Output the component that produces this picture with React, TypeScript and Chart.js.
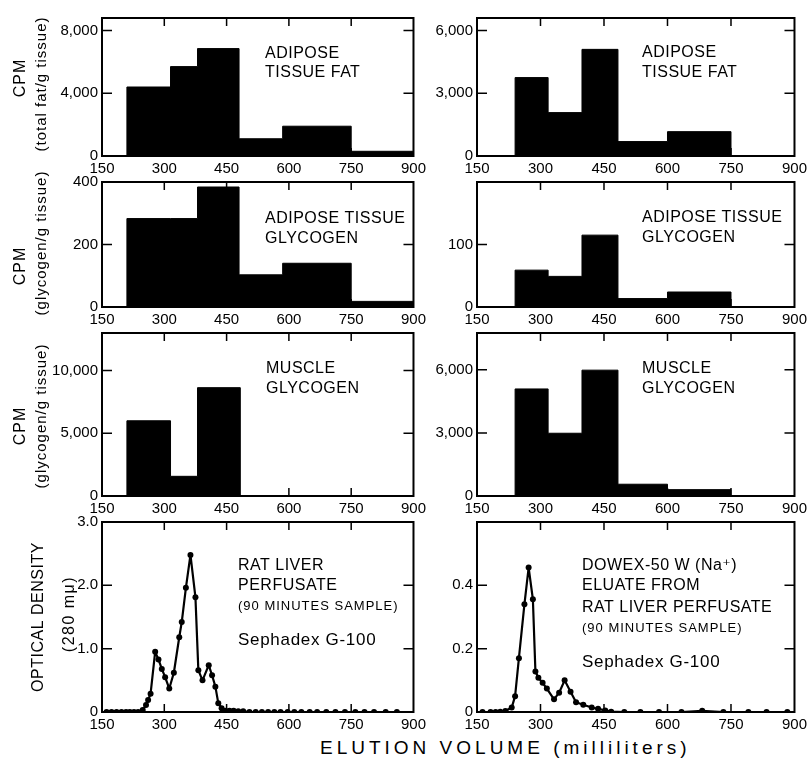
import React, { useEffect, useRef } from 'react';
import { Chart, registerables } from 'chart.js';

Chart.register(...registerables);

// ---------------- data ----------------
const xTickValues = [150, 300, 450, 600, 750, 900];
const xTickLabels = ['150', '300', '450', '600', '750', '900'];
const xInnerTicks = [300, 450, 600, 750];

// Adipose tissue fat
const fatLeftEdges = [210, 315, 380, 480, 585, 750, 900];
const fatLeftCPM = [4400, 5700, 6850, 1100, 1900, 300];
const fatLeftTicks = [0, 4000, 8000];
const fatLeftTickLabels = ['0', '4,000', '8,000'];

const fatRightEdges = [240, 318, 398, 483, 600, 750];
const fatRightCPM = [3750, 2075, 5100, 690, 1165];
const fatRightTicks = [0, 3000, 6000];
const fatRightTickLabels = ['0', '3,000', '6,000'];

// Adipose tissue glycogen
const glyLeftEdges = [210, 315, 380, 480, 585, 750, 900];
const glyLeftCPM = [283, 283, 384, 103, 140, 18];
const glyLeftTicks = [0, 200, 400];
const glyLeftTickLabels = ['0', '200', '400'];

const glyRightEdges = [240, 318, 398, 483, 600, 750];
const glyRightCPM = [59, 49, 115, 13.5, 24];
const glyRightTicks = [0, 100];
const glyRightTickLabels = ['0', '100'];

// Muscle glycogen
const musLeftEdges = [210, 315, 380, 483];
const musLeftCPM = [6000, 1570, 8640];
const musLeftTicks = [0, 5000, 10000];
const musLeftTickLabels = ['0', '5,000', '10,000'];

const musRightEdges = [240, 318, 398, 483, 600, 750];
const musRightCPM = [5090, 2984, 5984, 560, 303];
const musRightTicks = [0, 3000, 6000];
const musRightTickLabels = ['0', '3,000', '6,000'];

// Rat liver perfusate, optical density
const liverVolume = [161, 173, 185, 197, 208, 217, 227, 237, 248, 256, 261, 267, 278, 286, 294, 302, 312, 323, 336, 342, 352, 363, 375, 382, 392, 407, 415, 423, 430, 438, 447, 457, 467, 478, 490, 505, 520, 535, 550, 565, 580, 597, 613, 630, 650, 668, 690, 712, 735, 760, 782, 805, 833, 860];
const liverOD = [0, 0, 0, 0, 0, 0, 0, 0, 0.03, 0.11, 0.19, 0.29, 0.95, 0.83, 0.68, 0.55, 0.37, 0.62, 1.18, 1.42, 1.96, 2.48, 1.81, 0.66, 0.5, 0.74, 0.58, 0.4, 0.14, 0.06, 0.02, 0.02, 0.02, 0.01, 0.01, 0, 0, 0, 0, 0, 0, 0, 0, 0, 0, 0, 0, 0, 0, 0, 0, 0, 0, 0];
const liverTicks = [0, 1, 2, 3];
const liverTickLabels = ['0', '1.0', '2.0', '3.0'];

// Dowex-50 eluate, optical density
const dowexVolume = [163, 182, 194, 205, 217, 232, 240, 249, 262, 272, 282, 288, 295, 305, 315, 332, 344, 357, 371, 384, 401, 421, 436, 453, 467, 498, 536, 580, 633, 682, 732, 791, 834, 883];
const dowexOD = [0, 0, 0, 0.001, 0.003, 0.014, 0.05, 0.17, 0.34, 0.456, 0.356, 0.128, 0.108, 0.092, 0.074, 0.04, 0.061, 0.1, 0.064, 0.031, 0.023, 0.014, 0.01, 0.005, 0.001, 0, 0, 0, 0, 0.004, 0, 0, 0, 0];
const dowexTicks = [0, 0.2, 0.4];
const dowexTickLabels = ['0', '0.2', '0.4'];

// ---------------- helpers ----------------
const FONT = "'Liberation Sans', 'DejaVu Sans', sans-serif";
const TICK_FAMILY = "'Liberation Sans Narrow', 'Liberation Sans', sans-serif";

function histPoints(edges: number[], vals: number[]) {
  const pts: { x: number; y: number }[] = [{ x: 150, y: 0 }];
  vals.forEach((v, i) => pts.push({ x: edges[i], y: v }));
  const last = edges[edges.length - 1];
  pts.push({ x: last, y: 0 });
  if (last < 900) pts.push({ x: 900, y: 0 });
  return pts;
}

const histDataset = (edges: number[], vals: number[]) => ({
  data: histPoints(edges, vals),
  stepped: 'before',
  fill: 'origin',
  borderColor: '#000',
  backgroundColor: '#000',
  borderWidth: 1,
  pointRadius: 0,
});

const curveDataset = (xs: number[], ys: number[]) => ({
  data: xs.map((x, i) => ({ x, y: ys[i] })),
  borderColor: '#000',
  backgroundColor: '#000',
  pointBackgroundColor: '#000',
  pointBorderWidth: 0,
  borderWidth: 2.2,
  borderJoinStyle: 'round',
  pointRadius: 3,
  fill: false,
  tension: 0,
});

type TextItem = { text: string; x: number; y: number; font: string; spacing?: string; rot?: boolean; align?: string; baseline?: string };

const panelDecor = {
  id: 'panelDecor',
  afterDatasetsDraw(chart: any, _args: any, opts: any) {
    const ctx = chart.ctx as CanvasRenderingContext2D;
    const { left, right, top, bottom } = chart.chartArea;
    const xs = chart.scales.x;
    const ys = chart.scales.y;
    ctx.save();
    ctx.strokeStyle = '#000';
    ctx.lineWidth = 1.5;
    ctx.beginPath();
    for (const v of opts.yTicks) {
      if (v === 0) continue;
      const y = ys.getPixelForValue(v);
      ctx.moveTo(left, y);
      ctx.lineTo(left + 10, y);
      ctx.moveTo(right, y);
      ctx.lineTo(right - 10, y);
    }
    for (const v of xInnerTicks) {
      const x = xs.getPixelForValue(v);
      ctx.moveTo(x, top);
      ctx.lineTo(x, top + 8);
      ctx.moveTo(x, bottom);
      ctx.lineTo(x, bottom - 8);
    }
    ctx.stroke();
    ctx.lineWidth = 2;
    ctx.strokeRect(left, top, right - left, bottom - top);
    ctx.fillStyle = '#000';
    for (const t of opts.texts as TextItem[]) {
      ctx.save();
      ctx.font = t.font;
      (ctx as any).letterSpacing = t.spacing || '0px';
      ctx.textAlign = (t.align || 'left') as CanvasTextAlign;
      ctx.textBaseline = (t.baseline || 'alphabetic') as CanvasTextBaseline;
      ctx.translate(t.x - opts.ox, t.y - opts.oy);
      if (t.rot) ctx.rotate(-Math.PI / 2);
      ctx.fillText(t.text, 0, 0);
      ctx.restore();
    }
    ctx.restore();
  },
};

type PanelCfg = {
  cx: number; cy: number; w: number; h: number;
  plotLeft: number; plotRight: number; plotTop: number; plotBottom: number;
  yMax: number; yTicks: number[]; yLabels: string[];
  datasets: any[]; texts: TextItem[];
};

function buildConfig(p: PanelCfg): any {
  return {
    type: 'line',
    data: { datasets: p.datasets },
    options: {
      animation: false,
      responsive: false,
      devicePixelRatio: 1,
      layout: { padding: { left: 0, top: p.plotTop - p.cy, right: p.cx + p.w - p.plotRight, bottom: 0 } },
      plugins: {
        legend: { display: false },
        tooltip: { enabled: false },
        panelDecor: { yTicks: p.yTicks, texts: p.texts, ox: p.cx, oy: p.cy },
      },
      scales: {
        x: {
          type: 'linear', min: 150, max: 900,
          grid: { display: false, drawTicks: false },
          border: { display: false },
          afterBuildTicks: (s: any) => { s.ticks = xTickValues.map((v) => ({ value: v })); },
          afterFit: (s: any) => { s.height = p.cy + p.h - p.plotBottom; },
          ticks: {
            color: '#000', padding: 4, maxRotation: 0, autoSkip: false,
            font: { family: TICK_FAMILY, size: 15 },
            callback: (_v: any, i: number) => xTickLabels[i],
          },
        },
        y: {
          type: 'linear', min: 0, max: p.yMax,
          grid: { display: false, drawTicks: false },
          border: { display: false },
          afterBuildTicks: (s: any) => { s.ticks = p.yTicks.map((v) => ({ value: v })); },
          afterFit: (s: any) => { s.width = p.plotLeft - p.cx; },
          ticks: {
            color: '#000', padding: 4, autoSkip: false,
            font: { family: TICK_FAMILY, size: 15 },
            callback: (_v: any, i: number) => p.yLabels[i],
          },
        },
      },
    },
    plugins: [panelDecor],
  };
}

function Panel({ cfg }: { cfg: PanelCfg }) {
  const ref = useRef<HTMLCanvasElement | null>(null);
  useEffect(() => {
    const chart = new Chart(ref.current as HTMLCanvasElement, buildConfig(cfg));
    return () => chart.destroy();
  }, []);
  return (
    <canvas
      ref={ref}
      width={cfg.w}
      height={cfg.h}
      style={{ position: 'absolute', left: cfg.cx, top: cfg.cy, width: cfg.w, height: cfg.h }}
    />
  );
}

// ---------------- layout ----------------
const COL_L = { cx: 0, w: 430, plotLeft: 102, plotRight: 415 };
const COL_R = { cx: 420, w: 391, plotLeft: 477, plotRight: 795 };
const ROW1 = { cy: 0, h: 178, plotTop: 18, plotBottom: 156 };
const ROW2 = { cy: 165, h: 164, plotTop: 182, plotBottom: 307 };
const ROW3 = { cy: 320, h: 198, plotTop: 333, plotBottom: 496 };
const ROW4 = { cy: 505, h: 229, plotTop: 522, plotBottom: 712 };

const F16 = `16px ${FONT}`;
const F17 = `17px ${FONT}`;
const F13 = `13px ${FONT}`;
const F15 = `15px ${FONT}`;

const label = (text: string, x: number, y: number, font = F16, spacing = '0.5px'): TextItem => ({ text, x, y, font, spacing });
const vtitle = (text: string, x: number, y: number, font: string, spacing = '0.5px'): TextItem => ({ text, x, y, font, spacing, rot: true, align: 'center', baseline: 'middle' });

const panels: PanelCfg[] = [
  {
    ...COL_L, ...ROW1, yMax: 8800, yTicks: fatLeftTicks, yLabels: fatLeftTickLabels,
    datasets: [histDataset(fatLeftEdges, fatLeftCPM)],
    texts: [
      label('ADIPOSE', 265, 58), label('TISSUE FAT', 265, 77),
      vtitle('CPM', 21, 78, F16, '1px'), vtitle('(total fat/g tissue)', 42, 84, F15, '1px'),
    ],
  },
  {
    ...COL_R, ...ROW1, yMax: 6600, yTicks: fatRightTicks, yLabels: fatRightTickLabels,
    datasets: [histDataset(fatRightEdges, fatRightCPM)],
    texts: [label('ADIPOSE', 642, 57), label('TISSUE FAT', 642, 77)],
  },
  {
    ...COL_L, ...ROW2, yMax: 400, yTicks: glyLeftTicks, yLabels: glyLeftTickLabels,
    datasets: [histDataset(glyLeftEdges, glyLeftCPM)],
    texts: [
      label('ADIPOSE TISSUE', 265, 223), label('GLYCOGEN', 265, 243),
      vtitle('CPM', 21, 266, F16, '1px'), vtitle('(glycogen/g tissue)', 42, 243, F15, '1px'),
    ],
  },
  {
    ...COL_R, ...ROW2, yMax: 200, yTicks: glyRightTicks, yLabels: glyRightTickLabels,
    datasets: [histDataset(glyRightEdges, glyRightCPM)],
    texts: [label('ADIPOSE TISSUE', 642, 222), label('GLYCOGEN', 642, 242)],
  },
  {
    ...COL_L, ...ROW3, yMax: 13000, yTicks: musLeftTicks, yLabels: musLeftTickLabels,
    datasets: [histDataset(musLeftEdges, musLeftCPM)],
    texts: [
      label('MUSCLE', 266, 373), label('GLYCOGEN', 266, 393),
      vtitle('CPM', 21, 426, F16, '1px'), vtitle('(glycogen/g tissue)', 42, 416, F15, '1px'),
    ],
  },
  {
    ...COL_R, ...ROW3, yMax: 7750, yTicks: musRightTicks, yLabels: musRightTickLabels,
    datasets: [histDataset(musRightEdges, musRightCPM)],
    texts: [label('MUSCLE', 642, 373), label('GLYCOGEN', 642, 393)],
  },
  {
    ...COL_L, ...ROW4, yMax: 3, yTicks: liverTicks, yLabels: liverTickLabels,
    datasets: [curveDataset(liverVolume, liverOD)],
    texts: [
      label('RAT LIVER', 238, 570), label('PERFUSATE', 238, 590),
      label('(90 MINUTES SAMPLE)', 238, 610, F13, '1px'),
      label('Sephadex G-100', 238, 645, F17, '0.7px'),
      vtitle('OPTICAL DENSITY', 39, 617, F16, '0.5px'), vtitle('(280 mμ)', 70, 614, F16, '1.5px'),
    ],
  },
  {
    ...COL_R, ...ROW4, yMax: 0.6, yTicks: dowexTicks, yLabels: dowexTickLabels,
    datasets: [curveDataset(dowexVolume, dowexOD)],
    texts: [
      label('DOWEX-50 W (Na⁺)', 582, 570), label('ELUATE FROM', 582, 590),
      label('RAT LIVER PERFUSATE', 582, 612),
      label('(90 MINUTES SAMPLE)', 582, 632, F13, '1px'),
      label('Sephadex G-100', 582, 667, F17, '0.7px'),
    ],
  },
];

export default function App() {
  return (
    <div style={{ position: 'absolute', left: 0, top: 0, width: 811, height: 759, background: '#fff', overflow: 'hidden' }}>
      {panels.map((p, i) => (
        <Panel key={i} cfg={p} />
      ))}
      <div
        style={{
          position: 'absolute', left: 320, top: 737, whiteSpace: 'nowrap',
          font: `19px ${FONT}`, letterSpacing: '4px', color: '#000',
        }}
      >
        ELUTION VOLUME (milliliters)
      </div>
    </div>
  );
}
